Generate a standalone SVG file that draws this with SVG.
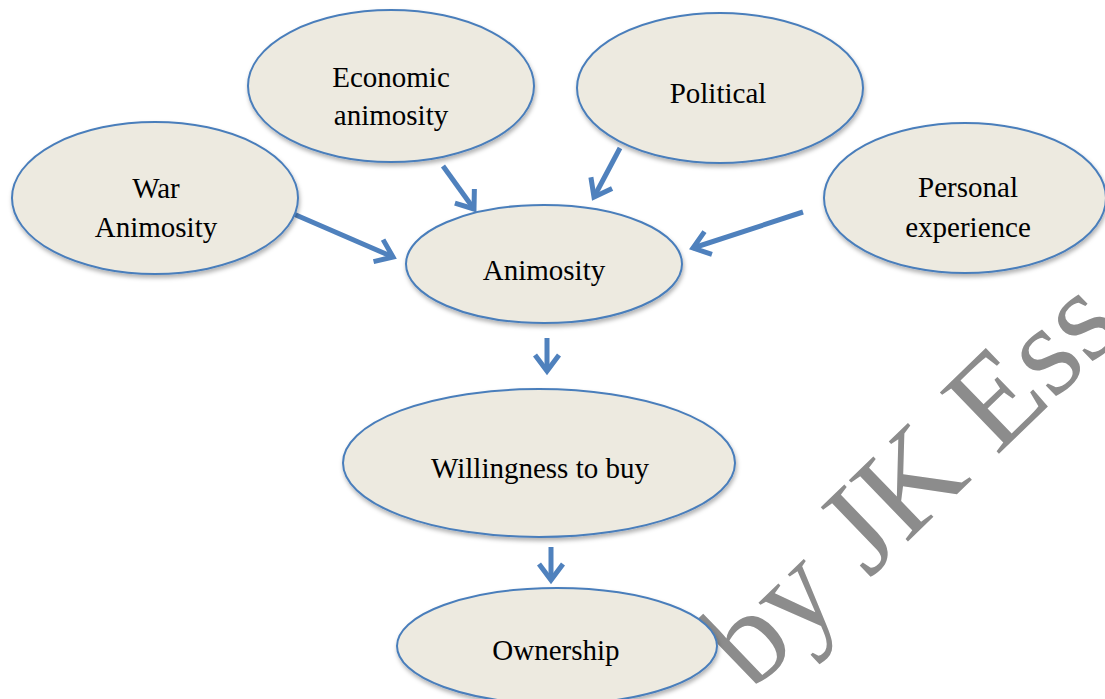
<svg xmlns="http://www.w3.org/2000/svg" width="1105" height="699" viewBox="0 0 1105 699">
<style>
.node ellipse{fill:#edeae0;stroke:#4a7ebb;stroke-width:2;filter:url(#sh)}
.node text{font-family:"Liberation Serif","Times New Roman",serif;font-size:29px;fill:#000;text-anchor:middle}
.conn line{stroke:#4f81bd;stroke-width:5;marker-end:url(#ah)}
.wm{font-family:"Liberation Serif","Times New Roman",serif;font-size:130px;fill:#8c8c8c}
</style>
<defs>
<filter id="sh" x="-10%" y="-10%" width="120%" height="130%">
<feDropShadow dx="1" dy="3" stdDeviation="2" flood-color="#000" flood-opacity="0.3"/>
</filter>
<marker id="ah" markerUnits="userSpaceOnUse" viewBox="-22 -16 28 32" refX="0" refY="0" markerWidth="28" markerHeight="32" orient="auto">
<path d="M-16,-12 L0,0 L-16,12" fill="none" stroke="#4f81bd" stroke-width="5"/>
</marker>
</defs>
<rect width="1105" height="699" fill="#fff"/>
<text class="wm" transform="translate(752,692) rotate(-44)">by JK Ess</text>
<g class="conn">
<line x1="289" y1="212" x2="393" y2="257"/>
<line x1="443" y1="166" x2="474" y2="209"/>
<line x1="620" y1="148" x2="594" y2="197"/>
<line x1="803" y1="212" x2="693" y2="248"/>
<line x1="547" y1="338" x2="547" y2="371"/>
<line x1="551" y1="547" x2="551" y2="580"/>
</g>
<g id="war" class="node"><ellipse cx="155" cy="198" rx="143" ry="76"/><text x="156" y="198">War</text><text x="156" y="237">Animosity</text></g>
<g id="economic" class="node"><ellipse cx="391" cy="86" rx="143" ry="76"/><text x="391" y="87">Economic</text><text x="391" y="125">animosity</text></g>
<g id="political" class="node"><ellipse cx="720" cy="88" rx="143" ry="75"/><text x="718" y="103">Political</text></g>
<g id="personal" class="node"><ellipse cx="965" cy="198" rx="141" ry="75"/><text x="968" y="197">Personal</text><text x="968" y="237">experience</text></g>
<g id="animosity" class="node"><ellipse cx="544" cy="264" rx="138" ry="59"/><text x="544" y="280">Animosity</text></g>
<g id="willingness" class="node"><ellipse cx="539" cy="463" rx="196" ry="74"/><text x="540" y="478">Willingness to buy</text></g>
<g id="ownership" class="node"><ellipse cx="557" cy="646" rx="160" ry="58"/><text x="556" y="660">Ownership</text></g>
</svg>
